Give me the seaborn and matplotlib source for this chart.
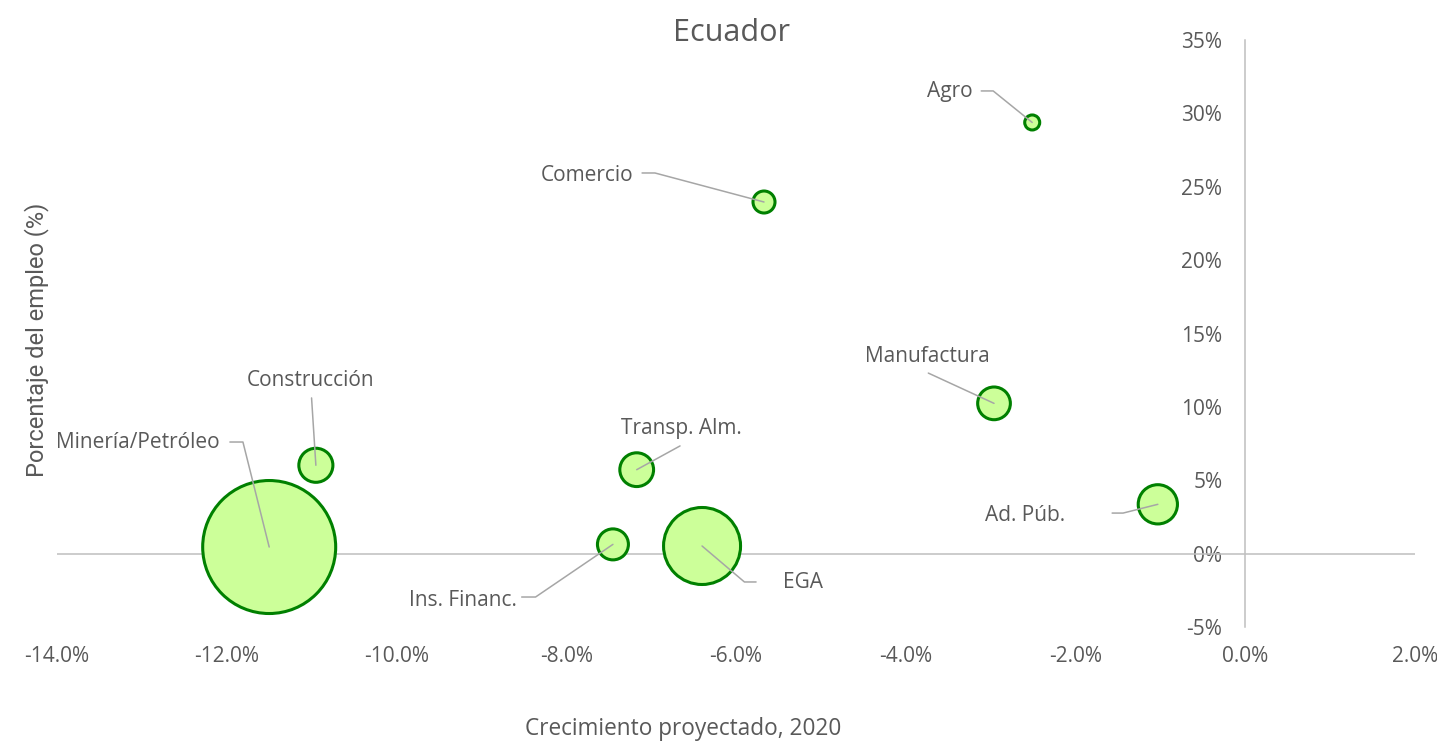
import matplotlib
matplotlib.use("Agg")
import matplotlib.pyplot as plt
import numpy as np
import pandas as pd
import seaborn as sns
from matplotlib.ticker import FuncFormatter, MultipleLocator

# datos (en %)
sectores = ["Agro", "Comercio", "Manufactura", "Ad. Púb.", "Transp. Alm.",
            "Construcción", "Ins. Financ.", "EGA", "Minería/Petróleo"]
crecimiento = [-2.51, -5.67, -2.96, -1.03, -7.17, -10.95, -7.45, -6.40, -11.50]
empleo = [29.38, 23.96, 10.24, 3.36, 5.72, 6.02, 0.63, 0.52, 0.45]
tamano = [2.25, 4.84, 10.7, 15.4, 11.4, 11.6, 9.6, 59.3, 176.9]

# posicion de etiquetas (offset en puntos): texto, inicio de linea, quiebre
txt_off = [(-59, 22), (-127.4, 19.4), (-48, 34), (-95.5, -8.4), (31.9, 30),
           (-3.5, 60.7), (-107.9, -40.1), (72.6, -26.6), (-94.5, 74.9)]
lin_off = [[(-36.7, 22.7), (-28.1, 22.7)],
           [(-87.8, 20.9), (-78.5, 20.9)],
           [(-47.3, 21.8)],
           [(-32.9, -6.3), (-25, -6.3)],
           [(31.2, 17.1)],
           [(-3.1, 48.5)],
           [(-65.7, -37.9), (-55.7, -37.9)],
           [(38.9, -25.9), (30.5, -25.9)],
           [(-28.3, 75.6), (-18.9, 75.6)]]

df = pd.DataFrame({"sector": sectores, "crecimiento": crecimiento,
                   "empleo": empleo, "tamano": tamano})

sns.set_style("white")
plt.rcParams['font.family'] = ['Open Sans', 'DejaVu Sans']
gris = '#595959'

fig = plt.figure(figsize=(14.37, 7.44), dpi=100)
ax = fig.add_axes([57 / 1437, 1 - 627 / 744, 1358 / 1437, 587 / 744])

k = 51.84
sns.scatterplot(data=df, x="crecimiento", y="empleo", size="tamano",
                sizes=(k * min(tamano), k * max(tamano)),
                size_norm=(min(tamano), max(tamano)),
                color="#CCFF99", edgecolor="#008000", linewidth=2.2,
                alpha=1, legend=False, ax=ax, zorder=3)

ax.set_xlim(-14, 2)
ax.set_ylim(-5, 35)
ax.xaxis.set_major_locator(MultipleLocator(2))
ax.yaxis.set_major_locator(MultipleLocator(5))
ax.xaxis.set_major_formatter(FuncFormatter(lambda v, p: f"{v:.1f}%"))
ax.yaxis.set_major_formatter(FuncFormatter(lambda v, p: f"{v:.0f}%"))

for s in ["top", "right", "bottom"]:
    ax.spines[s].set_visible(False)
ax.spines["left"].set_position(("data", 0))
ax.spines["left"].set_color("#BFBFBF")
ax.spines["left"].set_linewidth(1.1)
ax.axhline(0, color="#BFBFBF", lw=1.1, zorder=1)

ax.tick_params(axis="both", length=0, labelsize=15, labelcolor=gris)
ax.tick_params(axis="x", pad=14)
ax.tick_params(axis="y", pad=16.5)
ax.set_xlabel("")
ax.set_ylabel("")

# etiquetas con lineas guia
to_px = fig.dpi / 72.0
for i, nombre in enumerate(sectores):
    x, y = crecimiento[i], empleo[i]
    ax.annotate(nombre, xy=(x, y), xytext=txt_off[i], textcoords="offset points",
                ha="center", va="center", fontsize=15, color=gris)
    cx, cy = ax.transData.transform((x, y))
    pts = lin_off[i] + [(0, 0)]
    xs = [cx + dx * to_px for dx, dy in pts]
    ys = [cy + dy * to_px for dx, dy in pts]
    ax.plot(xs, ys, color="#A6A6A6", lw=1.1, transform=None,
            clip_on=False, zorder=4)

fig.text(732 / 1437, 1 - 33 / 744, "Ecuador", ha="center", va="center",
         fontsize=22, color=gris)
fig.text(683 / 1437, 1 - 729 / 744, "Crecimiento proyectado, 2020",
         ha="center", va="center", fontsize=16.3, color=gris)
fig.text(37 / 1437, 1 - 340 / 744, "Porcentaje del empleo (%)",
         ha="center", va="center", rotation=90, fontsize=17,
         color=gris, family=["Roboto", "DejaVu Sans"])

fig.savefig("out.png", dpi=100)
